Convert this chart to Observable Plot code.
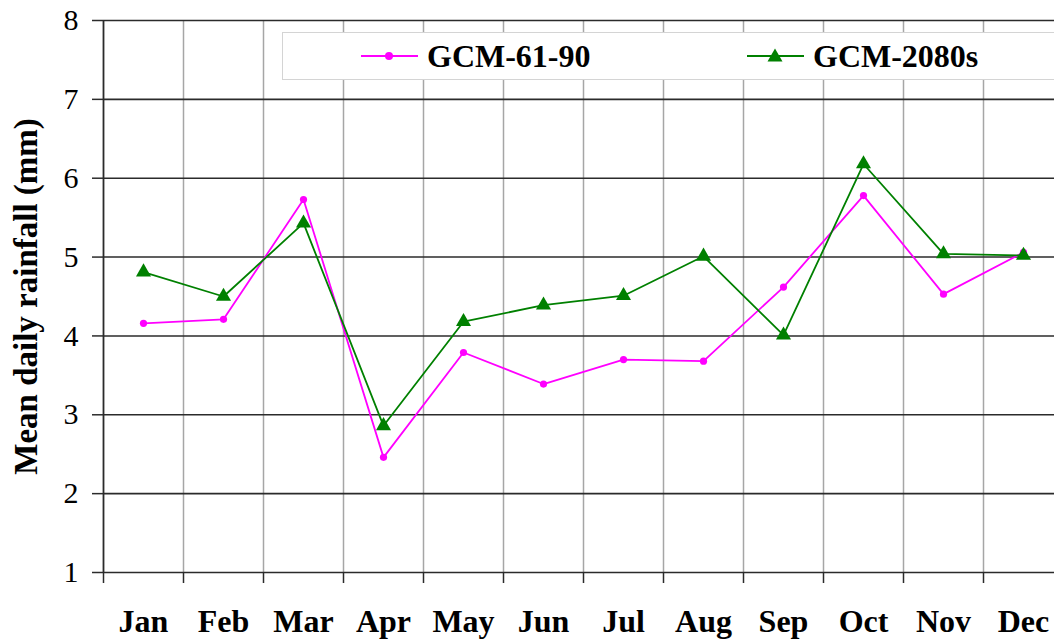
<!DOCTYPE html>
<html>
<head>
<meta charset="utf-8">
<script src="https://cdn.jsdelivr.net/npm/d3@7"></script>
<script src="https://cdn.jsdelivr.net/npm/@observablehq/plot@0.6"></script>
<style>
  html, body { margin: 0; padding: 0; background: #fff; }
  #wrap { position: relative; width: 1054px; height: 640px; overflow: hidden; font-family: "Liberation Serif", "Times New Roman", serif; }
  #legend { position: absolute; left: 282px; top: 32px; width: 800px; height: 48px; background: #fff; border: 1.5px solid #d4d4d4; box-sizing: border-box; }
  .item { position: absolute; top: 0; height: 46px; display: flex; align-items: center; font-weight: bold; font-size: 32px; color: #000; white-space: nowrap; }
  .item svg { margin-right: 9px; }
</style>
</head>
<body>
<div id="wrap"></div>
<script>
const months = ["Jan","Feb","Mar","Apr","May","Jun","Jul","Aug","Sep","Oct","Nov","Dec"];
const gcm6190 = [4.16, 4.21, 5.73, 2.46, 3.79, 3.39, 3.70, 3.68, 4.62, 5.78, 4.53, 5.06];
const gcm2080 = [4.81, 4.50, 5.43, 2.86, 4.18, 4.39, 4.51, 5.01, 4.01, 6.18, 5.04, 5.02];
const yTicks = [1, 2, 3, 4, 5, 6, 7, 8];
const seriesNames = ["GCM-61-90", "GCM-2080s"];
const seriesColors = ["#ff00ff", "#008000"];
const yTitle = "Mean daily rainfall (mm)";

const rows = months.flatMap((m, i) => [
  {month: m, value: gcm6190[i], series: seriesNames[0]},
  {month: m, value: gcm2080[i], series: seriesNames[1]}
]);
const s1 = rows.filter(d => d.series === seriesNames[0]);
const s2 = rows.filter(d => d.series === seriesNames[1]);

const bandHalf = 40;

const chart = Plot.plot({
  width: 1054,
  height: 640,
  marginLeft: 103,
  marginRight: 0,
  marginTop: 20,
  marginBottom: 68,
  x: {type: "band", domain: months, range: [103, 1063], padding: 0},
  y: {domain: [1, 8], range: [572, 20]},
  style: {fontFamily: "Liberation Serif, Times New Roman, serif", background: "white", color: "black", overflow: "hidden"},
  marks: [
    Plot.ruleX(months.slice(1), {x: d => d, dx: -bandHalf, stroke: "#a6a6a6", strokeWidth: 1.5}),
    Plot.ruleY(yTicks, {y: d => d, stroke: "#2b2b2b", strokeWidth: 1.6}),
    Plot.ruleX(months.slice(0, 1), {x: d => d, dx: -bandHalf, stroke: "#2b2b2b", strokeWidth: 1.8}),
    Plot.axisY({ticks: yTicks, tickSize: 11, tickPadding: 14, fontSize: 30, label: null, tickFormat: d => String(d), stroke: "#2b2b2b", strokeWidth: 1.5}),
    Plot.axisX({ticks: months, tickSize: 11, dx: -bandHalf, fill: "none", label: null, stroke: "#2b2b2b", strokeWidth: 1.5}),
    Plot.axisX({ticks: months, tickSize: 0, tickPadding: 37, fontSize: 32, fontWeight: "bold", label: null}),
    Plot.text([yTitle], {frameAnchor: "left", textAnchor: "middle", lineAnchor: "middle", rotate: -90, dx: -77, fontSize: 33, fontWeight: "bold", text: d => d, fill: "black"}),
    Plot.line(s1, {x: "month", y: "value", stroke: seriesColors[0], strokeWidth: 1.8}),
    Plot.dot(s1, {x: "month", y: "value", r: 3.6, fill: seriesColors[0], stroke: "none"}),
    Plot.line(s2, {x: "month", y: "value", stroke: seriesColors[1], strokeWidth: 1.8}),
    Plot.dot(s2, {x: "month", y: "value", r: 5.6, symbol: "triangle", fill: seriesColors[1], stroke: "none"})
  ]
});

const wrap = document.getElementById("wrap");
wrap.appendChild(chart);

const legend = document.createElement("div");
legend.id = "legend";
const lefts = [78, 464];
seriesNames.forEach((name, i) => {
  const item = document.createElement("div");
  item.className = "item";
  item.style.left = lefts[i] + "px";
  const marker = i === 0
    ? `<circle cx="28" cy="10" r="4" fill="${seriesColors[0]}"/>`
    : `<path d="M28,2.5 L35.5,15.5 L20.5,15.5 Z" fill="${seriesColors[1]}"/>`;
  item.innerHTML = `<svg width="57" height="20" viewBox="0 0 57 20"><line x1="0" y1="10" x2="57" y2="10" stroke="${seriesColors[i]}" stroke-width="1.8"/>${marker}</svg><span>${name}</span>`;
  legend.appendChild(item);
});
wrap.appendChild(legend);
</script>
</body>
</html>
